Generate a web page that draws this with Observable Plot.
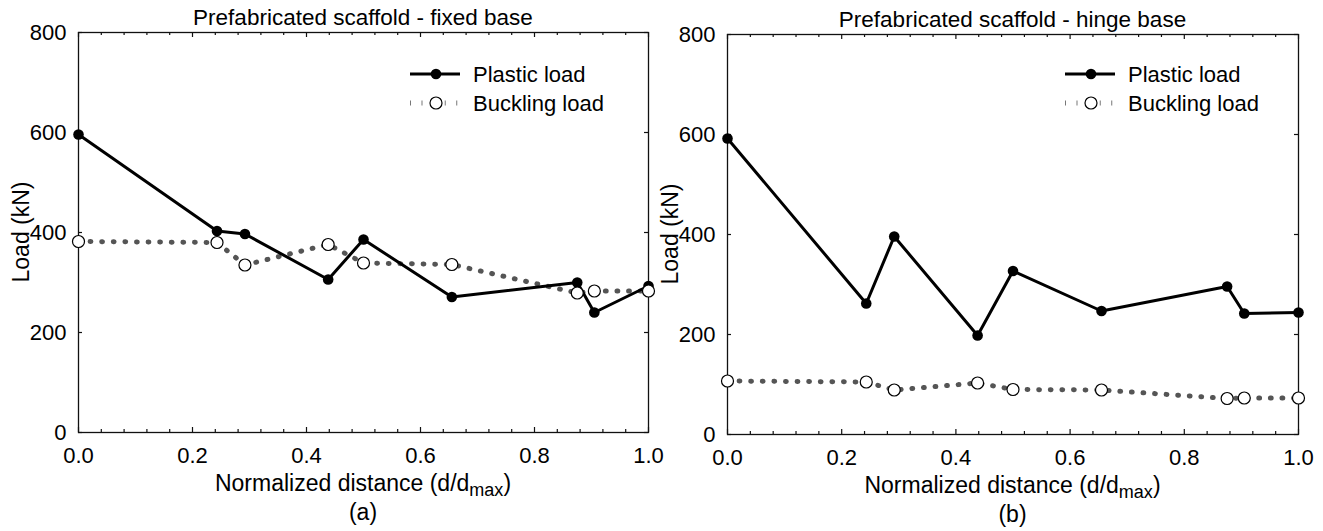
<!DOCTYPE html>
<html>
<head>
<meta charset="utf-8">
<script src="https://cdn.jsdelivr.net/npm/d3@7"></script>
<script src="https://cdn.jsdelivr.net/npm/@observablehq/plot@0.6"></script>
<style>
  html, body { margin: 0; padding: 0; background: white; }
  #page { position: relative; width: 1323px; height: 531px; overflow: hidden; font-family: "Liberation Sans", Arial, sans-serif; }
  #page svg { position: absolute; top: 0; }
</style>
</head>
<body>
<div id="page"></div>
<script>
// ---- data ----
const distance = [0, 0.243, 0.292, 0.438, 0.5, 0.655, 0.875, 0.905, 1.0];
const plasticFixed = [596, 403, 397, 306, 386, 271, 300, 240, 293];
const bucklingFixed = [382, 380, 335, 376, 339, 336, 279, 283, 283];
const plasticHinge = [592, 262, 396, 198, 327, 247, 296, 242, 244];
const bucklingHinge = [107, 105, 89, 103, 90, 89, 72, 73, 73];

const xTicks = [0, 0.2, 0.4, 0.6, 0.8, 1.0];
const xTickLabels = ["0.0", "0.2", "0.4", "0.6", "0.8", "1.0"];
const xMinorTicks = [0.04, 0.08, 0.12, 0.16, 0.24, 0.28, 0.32, 0.36, 0.44, 0.48, 0.52, 0.56, 0.64, 0.68, 0.72, 0.76, 0.84, 0.88, 0.92, 0.96];
const yTicks = [0, 200, 400, 600, 800];
const yTickLabels = ["0", "200", "400", "600", "800"];

const panelTitles = ["Prefabricated scaffold - fixed base", "Prefabricated scaffold - hinge base"];
const panelTags = ["(a)", "(b)"];
const seriesNames = ["Plastic load", "Buckling load"];
const yLabel = "Load (kN)";
const xLabelMain = "Normalized distance (d/d";
const xLabelSub = "max";

const FONT = "Liberation Sans, Arial, sans-serif";
const DASH = "0.8,10.8";
const DOTCOLOR = "#555";

function panel(opts) {
  const {plastic, buckling, left, width, ml, mr, mt, title, tag, legendX} = opts;
  const height = 531;
  const plotH = 400;
  const plotW = width - ml - mr;
  const rows = distance.map((d, i) => ({x: d, p: plastic[i], b: buckling[i]}));
  const svg = Plot.plot({
    width, height,
    marginLeft: ml, marginRight: mr, marginTop: mt, marginBottom: height - mt - plotH,
    style: {background: "transparent", overflow: "visible", fontFamily: FONT, fontSize: "22px", color: "black"},
    x: {domain: [0, 1], axis: null},
    y: {domain: [0, 800], axis: null},
    marks: [
      Plot.tickX(xMinorTicks, {x: d => d, insetTop: plotH - 3, stroke: "#111", strokeWidth: 1.2}),
      Plot.tickX(xMinorTicks, {x: d => d, insetBottom: plotH - 3, stroke: "#111", strokeWidth: 1.2}),
      Plot.tickX(xTicks, {x: d => d, insetTop: plotH - 5, stroke: "#111", strokeWidth: 1.2}),
      Plot.tickX(xTicks, {x: d => d, insetBottom: plotH - 5, stroke: "#111", strokeWidth: 1.2}),
      Plot.tickY(yTicks, {y: d => d, insetRight: plotW - 4, stroke: "#111", strokeWidth: 1.2}),
      Plot.tickY(yTicks, {y: d => d, insetLeft: plotW - 4, stroke: "#111", strokeWidth: 1.2}),
      Plot.axisX(xTicks, {tickSize: 0, tickPadding: 15, tickFormat: (d, i) => xTickLabels[i], fontSize: 22, label: null}),
      Plot.axisY(yTicks, {tickSize: 0, tickPadding: 12, tickFormat: (d, i) => yTickLabels[i], fontSize: 22, label: null}),
      Plot.frame({stroke: "#111", strokeWidth: 1.3}),
      Plot.line(rows, {x: "x", y: "b", stroke: DOTCOLOR, strokeWidth: 5, strokeDasharray: DASH}),
      Plot.line(rows, {x: "x", y: "p", stroke: "black", strokeWidth: 3}),
      Plot.dot(rows, {x: "x", y: "p", r: 5.3, fill: "black"}),
      Plot.dot(rows, {x: "x", y: "b", r: 6, fill: "white", stroke: "black", strokeWidth: 1.2})
    ]
  });
  svg.style.left = left + "px";
  const s = d3.select(svg);
  const cx = ml + plotW / 2;
  s.append("text").attr("x", cx).attr("y", mt - 7).attr("text-anchor", "middle")
    .attr("font-size", 22.5).attr("font-family", FONT).text(title);
  const xl = s.append("text").attr("x", cx).attr("y", mt + plotH + 59).attr("text-anchor", "middle")
    .attr("font-size", 23).attr("font-family", FONT);
  xl.append("tspan").text(xLabelMain);
  xl.append("tspan").attr("font-size", 18).attr("dy", 5).text(xLabelSub);
  xl.append("tspan").attr("dy", -5).text(")");
  s.append("text").attr("x", cx).attr("y", mt + plotH + 88).attr("text-anchor", "middle")
    .attr("font-size", 23).attr("font-family", FONT).text(tag);
  s.append("text").attr("transform", `translate(${ml - 57},${mt + 200}) rotate(-90)`)
    .attr("text-anchor", "middle").attr("dy", "0.35em")
    .attr("font-size", 23).attr("font-family", FONT).text(yLabel);
  // legend
  const lx = legendX, ly1 = 74, ly2 = 103;
  s.append("line").attr("x1", lx).attr("x2", lx + 50).attr("y1", ly1).attr("y2", ly1)
    .attr("stroke", "black").attr("stroke-width", 3);
  s.append("circle").attr("cx", lx + 26).attr("cy", ly1).attr("r", 5.3).attr("fill", "black");
  s.append("line").attr("x1", lx).attr("x2", lx + 50).attr("y1", ly2).attr("y2", ly2)
    .attr("stroke", DOTCOLOR).attr("stroke-width", 5).attr("stroke-dasharray", DASH);
  s.append("circle").attr("cx", lx + 26).attr("cy", ly2).attr("r", 6).attr("fill", "white")
    .attr("stroke", "black").attr("stroke-width", 1.2);
  s.append("text").attr("x", lx + 63).attr("y", ly1).attr("dy", "0.35em").attr("text-anchor", "start")
    .attr("font-size", 22).attr("font-family", FONT).text(seriesNames[0]);
  s.append("text").attr("x", lx + 63).attr("y", ly2).attr("dy", "0.35em").attr("text-anchor", "start")
    .attr("font-size", 22).attr("font-family", FONT).text(seriesNames[1]);
  document.getElementById("page").appendChild(svg);
}

panel({plastic: plasticFixed, buckling: bucklingFixed, left: 0, width: 690, ml: 78, mr: 42, mt: 32,
  title: panelTitles[0], tag: panelTags[0], legendX: 410});
panel({plastic: plasticHinge, buckling: bucklingHinge, left: 640, width: 683, ml: 87, mr: 25, mt: 34,
  title: panelTitles[1], tag: panelTags[1], legendX: 1065 - 640});
</script>
</body>
</html>
